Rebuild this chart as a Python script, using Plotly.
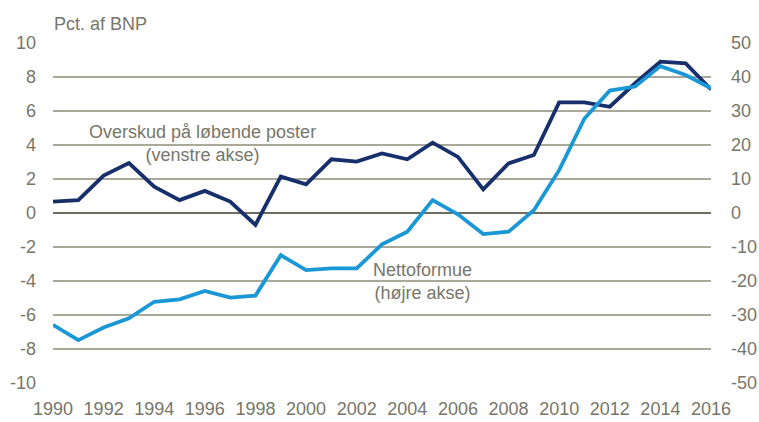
import plotly.graph_objects as go

years = list(range(1990, 2017))

# Overskud på løbende poster, pct. af BNP (venstre akse)
overskud = [0.67, 0.76, 2.2, 2.94, 1.55, 0.76, 1.3, 0.67, -0.7, 2.14,
            1.69, 3.16, 3.02, 3.5, 3.16, 4.14, 3.3, 1.39, 2.92, 3.41,
            6.51, 6.51, 6.25, 7.63, 8.9, 8.8, 7.27]

# Nettoformue, pct. af BNP (højre akse)
nettoformue = [-32.9, -37.4, -33.7, -31.0, -26.1, -25.4, -22.9, -24.9, -24.3, -12.4,
               -16.8, -16.3, -16.3, -9.2, -5.5, 3.8, -0.4, -6.2, -5.5, 0.8,
               12.6, 27.8, 36.0, 37.2, 43.2, 40.6, 36.7]

left_ticks = list(range(-10, 11, 2))
right_ticks = list(range(-50, 51, 10))
x_ticks = list(range(1990, 2017, 2))

navy = "#172f6b"
light = "#1a98d5"
txt = "#77766a"
grid = "#aaa898"
font_family = "Liberation Sans, Arial"

fig = go.Figure()
fig.add_trace(go.Scatter(x=years, y=overskud, mode="lines", name="Overskud på løbende poster",
                         line=dict(color=navy, width=3.8), yaxis="y"))
fig.add_trace(go.Scatter(x=years, y=nettoformue, mode="lines", name="Nettoformue",
                         line=dict(color=light, width=3.8), yaxis="y2"))

fig.update_layout(
    width=759, height=422,
    margin=dict(l=53, r=48, t=43, b=39),
    plot_bgcolor="white", paper_bgcolor="white",
    showlegend=False,
    font=dict(family=font_family, size=18, color=txt),
    xaxis=dict(range=[1990, 2016], tickvals=x_ticks, ticktext=[str(v) for v in x_ticks],
               tickangle=0, showgrid=False, zeroline=False, automargin=False,
               showline=False, ticks="", ticklabelstandoff=13),
    yaxis=dict(range=[-10, 10], tickvals=left_ticks, ticktext=[str(v) for v in left_ticks],
               showgrid=True, gridcolor=grid, automargin=False,
               gridwidth=1.5, zeroline=True, zerolinecolor="#6f6d60", zerolinewidth=2,
               ticks="", ticklabelstandoff=16),
    yaxis2=dict(range=[-50, 50], tickvals=right_ticks, ticktext=[str(v) for v in right_ticks],
                overlaying="y", side="right", automargin=False,
                showgrid=False, zeroline=False, ticks="", ticklabelstandoff=19),
    annotations=[
        dict(text="Pct. af BNP", xref="paper", yref="paper", x=-0.002, y=1.0,
             xanchor="left", yanchor="bottom", yshift=7, showarrow=False),
        dict(text="Overskud på løbende poster<br>(venstre akse)", xref="x", yref="y",
             x=1995.9, y=4.1, showarrow=False, align="center", xanchor="center"),
        dict(text="Nettoformue<br>(højre akse)", xref="x", yref="y",
             x=2004.6, y=-4.05, showarrow=False, align="center", xanchor="center"),
    ],
)

# drop the default page margin so the figure fills the window exactly
fig.write_html("out.html", config={"displayModeBar": False},
               post_script="document.body.style.margin='0';")
